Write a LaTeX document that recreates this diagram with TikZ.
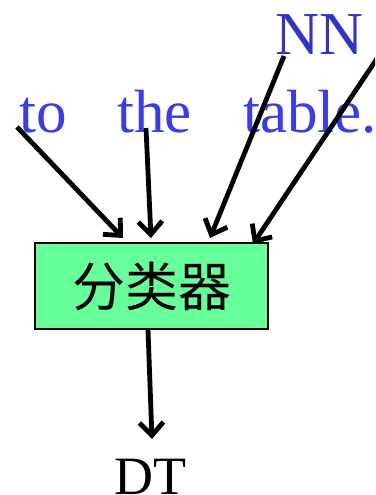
\documentclass[tikz,border=0pt]{standalone}
\usepackage{fontspec}
\setmainfont{Liberation Serif}
\newfontfamily\cjk{Noto Sans CJK SC}
\usetikzlibrary{arrows.meta}
\definecolor{wordblue}{RGB}{58,58,240}
\definecolor{nnblue}{RGB}{51,51,204}
\definecolor{boxgreen}{RGB}{102,255,153}
\tikzset{
  word/.style={anchor=base west, inner sep=0pt, text=wordblue, font=\fontsize{61}{61}\selectfont},
  tag/.style={anchor=base west, inner sep=0pt, font=\fontsize{61}{61}\selectfont},
  classifier/.style={draw=black, line width=2pt, fill=boxgreen, minimum width=233pt, minimum height=86pt, inner sep=0pt, font=\cjk\fontsize{53}{53}\selectfont},
  arr/.style={line width=4.8pt, -{Straight Barb[length=13pt,width=24pt,line width=4.8pt]}}
}
\begin{document}
\begin{tikzpicture}[x=1pt,y=-1pt]
\useasboundingbox (0,0) rectangle (375,495);
\clip (0,0) rectangle (375,495);
\node[word] (to) at (19,132) {to};
\node[word] (the) at (117,132) {the};
\node[word] (table) at (243,132) {table.};
\node[tag, text=nnblue] (nn) at (275,55) {NN};
\node[tag, font=\fontsize{54}{54}\selectfont] (dt) at (114,494) {DT};
\node[classifier] (cls) at (151.5,286) {分类器};
\coordinate (s1) at (17,127);
\coordinate (s2) at (146,128);
\coordinate (s3) at (284,56);
\coordinate (s4) at (378,57);
\coordinate (e1) at (123,238);
\coordinate (e2) at (151,238);
\coordinate (e3) at (210,238);
\coordinate (e4) at (253,244);
\coordinate (e5) at (152,439);
\draw[arr] (s1) -- (e1);
\draw[arr] (s2) -- (e2);
\draw[arr] (s3) -- (e3);
\draw[arr] (s4) -- (e4);
\draw[arr] (cls.south -| 148,0) -- (e5);
\end{tikzpicture}
\end{document}
